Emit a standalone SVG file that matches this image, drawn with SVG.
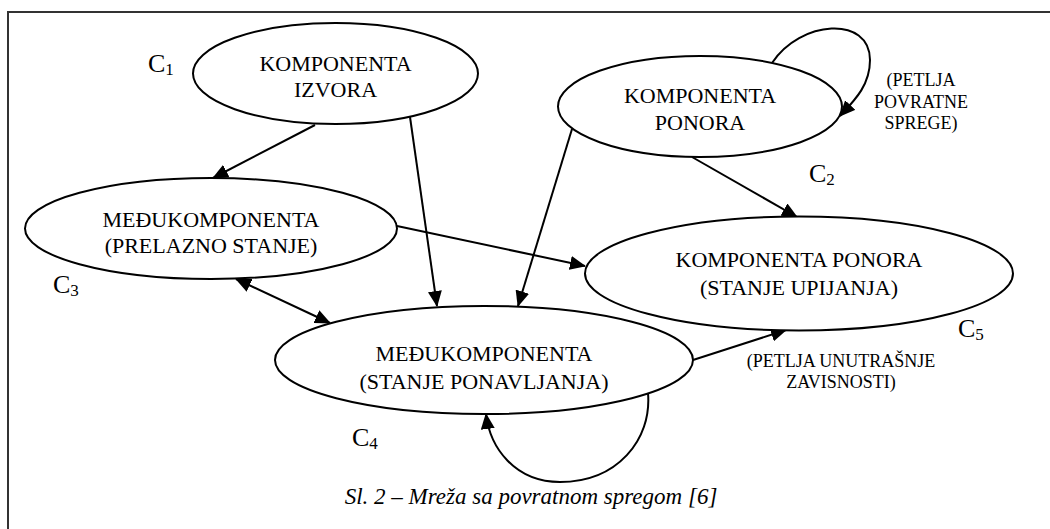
<svg xmlns="http://www.w3.org/2000/svg" width="1050" height="529" viewBox="0 0 1050 529">
<style>
.node{fill:#fff;stroke:#000;stroke-width:2}
.nt{font-family:"Liberation Serif","Times New Roman",serif;font-size:22px;fill:#000;text-anchor:middle}
.st{font-family:"Liberation Serif","Times New Roman",serif;font-size:18px;fill:#000;text-anchor:middle}
.cl{font-family:"Liberation Serif","Times New Roman",serif;font-size:26px;fill:#000}
.sub{font-size:17px}
.edge{fill:none;stroke:#000;stroke-width:2}
.cap{font-family:"Liberation Serif","Times New Roman",serif;font-size:23px;font-style:italic;fill:#000;text-anchor:middle}
</style>
<defs>
<marker id="ah" markerUnits="userSpaceOnUse" markerWidth="16" markerHeight="14" viewBox="0 0 16 14" refX="15" refY="7" orient="auto-start-reverse">
<path d="M0,0 L16,7 L0,14 Z" fill="#000"/>
</marker>
</defs>
<rect width="1050" height="529" fill="#fff"/>
<g id="frame">
<path d="M8,529 V12 H1050" fill="none" stroke="#333" stroke-width="2"/>
</g>
<g id="connectors">
<path class="edge" d="M315,125 L213,178" marker-end="url(#ah)"/>
<path class="edge" d="M410,117 L437,306" marker-end="url(#ah)"/>
<path class="edge" d="M572,129 L518,306" marker-end="url(#ah)"/>
<path class="edge" d="M397,226 L585,266" marker-end="url(#ah)"/>
<path class="edge" d="M236,279 L330,323" marker-start="url(#ah)" marker-end="url(#ah)"/>
<path class="edge" d="M692,157 L797,217" marker-end="url(#ah)"/>
<path class="edge" d="M693,360 L786,330" marker-end="url(#ah)"/>
<path class="edge" d="M772,63 C800,20 870,15 870,60 C870,85 855,100 840,116" marker-end="url(#ah)"/>
<path class="edge" d="M648,393 C652,440 617,482 560,482 C515,482 490,448 486,414" marker-end="url(#ah)"/>
</g>
<g id="C1">
<ellipse class="node" cx="335.5" cy="73.5" rx="142.5" ry="50.5"/>
<text class="nt" x="335.5" y="71">KOMPONENTA</text>
<text class="nt" x="335.5" y="97">IZVORA</text>
<text class="cl" x="148" y="72">C<tspan class="sub" dy="3">1</tspan></text>
</g>
<g id="C2">
<ellipse class="node" cx="700" cy="106.5" rx="142" ry="50.5"/>
<text class="nt" x="700" y="103">KOMPONENTA</text>
<text class="nt" x="700" y="130">PONORA</text>
<text class="cl" x="809" y="182">C<tspan class="sub" dy="3">2</tspan></text>
<text class="st" x="921" y="86">(PETLJA</text>
<text class="st" x="921" y="108">POVRATNE</text>
<text class="st" x="921" y="129">SPREGE)</text>
</g>
<g id="C3">
<ellipse class="node" cx="211" cy="228.5" rx="186" ry="50.5"/>
<text class="nt" x="211" y="227">MEĐUKOMPONENTA</text>
<text class="nt" x="211" y="253">(PRELAZNO STANJE)</text>
<text class="cl" x="53" y="293">C<tspan class="sub" dy="3">3</tspan></text>
</g>
<g id="C4">
<ellipse class="node" cx="484" cy="360" rx="209" ry="54"/>
<text class="nt" x="484" y="361">MEĐUKOMPONENTA</text>
<text class="nt" x="484" y="389">(STANJE PONAVLJANJA)</text>
<text class="cl" x="352" y="446">C<tspan class="sub" dy="3">4</tspan></text>
</g>
<g id="C5">
<ellipse class="node" cx="799" cy="273.5" rx="214" ry="57"/>
<text class="nt" x="799" y="267">KOMPONENTA PONORA</text>
<text class="nt" x="799" y="295">(STANJE UPIJANJA)</text>
<text class="cl" x="958" y="337">C<tspan class="sub" dy="3">5</tspan></text>
<text class="st" x="841" y="367">(PETLJA UNUTRAŠNJE</text>
<text class="st" x="841" y="388">ZAVISNOSTI)</text>
</g>
<text class="cap" x="531" y="504">Sl. 2 – Mreža sa povratnom spregom [6]</text>
</svg>
